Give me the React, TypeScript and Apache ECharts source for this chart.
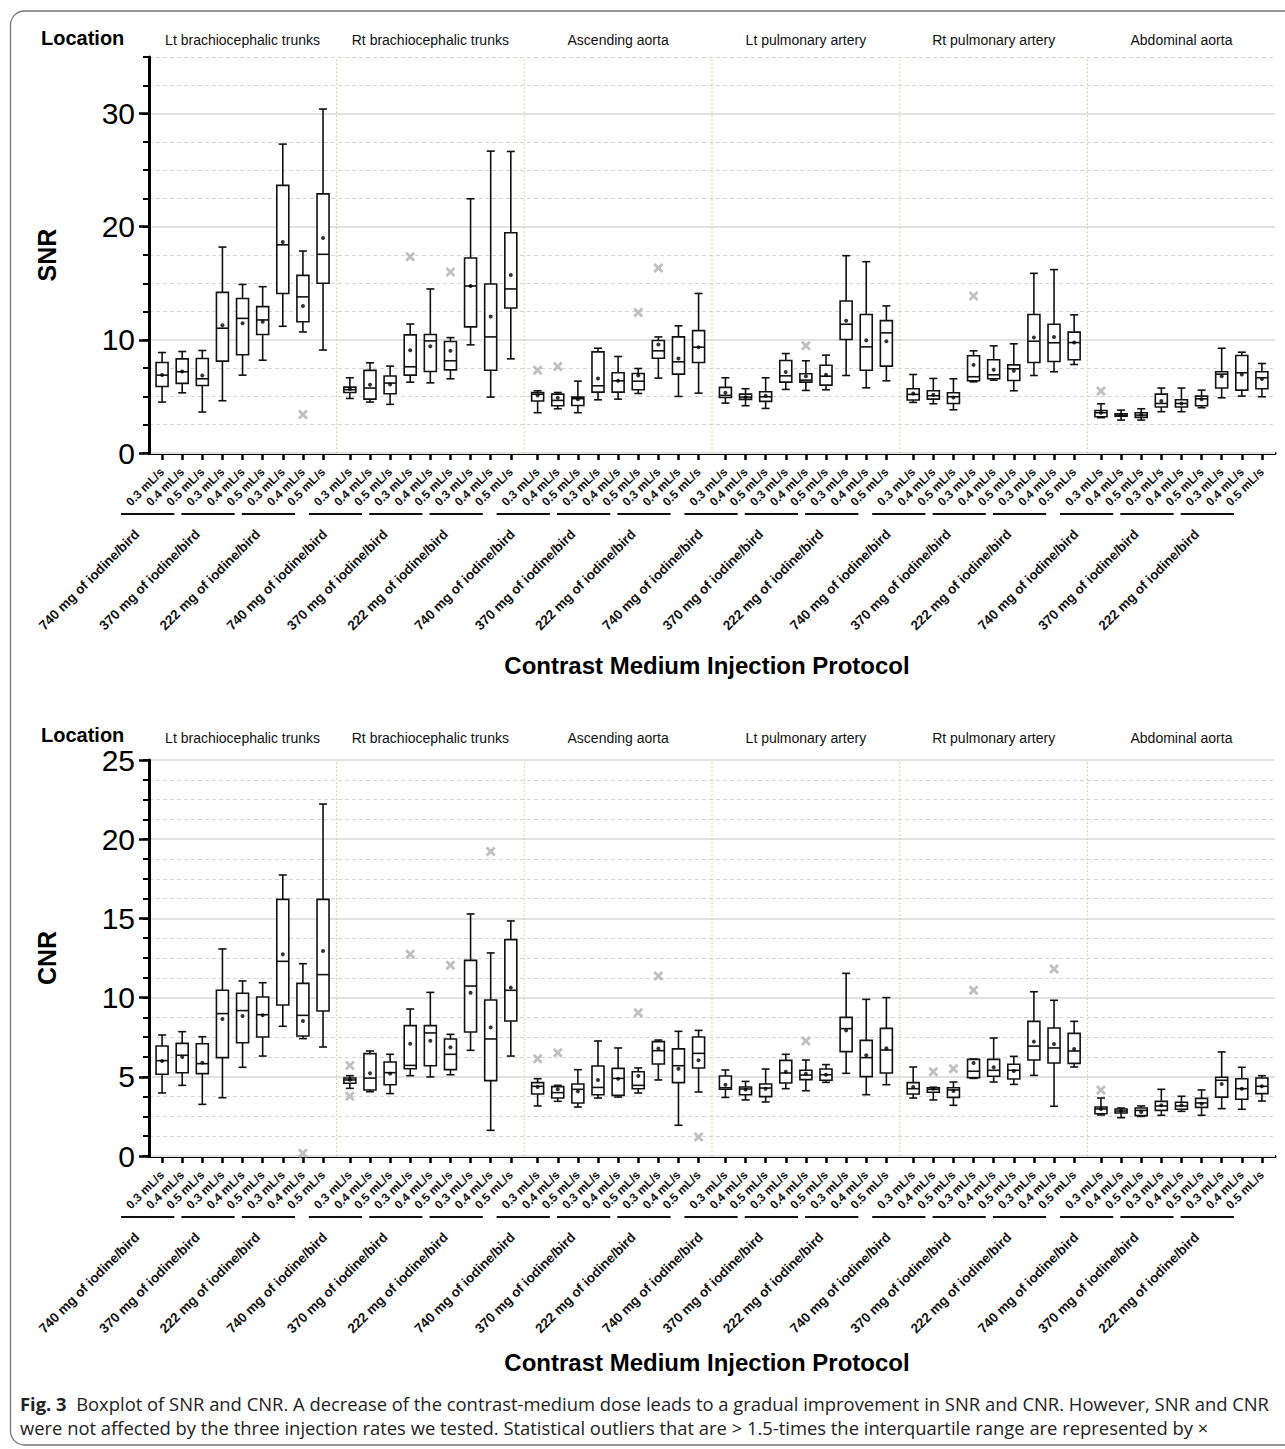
import React, { useEffect, useRef } from "react";
import * as echarts from "echarts";

const W = 1285;
const H = 1449;

// ---------- categories ----------
const locations = [
  "Lt brachiocephalic trunks",
  "Rt brachiocephalic trunks",
  "Ascending aorta",
  "Lt pulmonary artery",
  "Rt pulmonary artery",
  "Abdominal aorta",
];
const doses = ["740 mg of iodine/bird", "370 mg of iodine/bird", "222 mg of iodine/bird"];
const rates = ["0.3 mL/s", "0.4 mL/s", "0.5 mL/s"];
const snrTicks = [0, 10, 20, 30];
const cnrTicks = [0, 5, 10, 15, 20, 25];

// ---------- SNR (order: location > dose > rate) ----------
const snrLow = [
  4.5, 5.32, 3.62, 4.62, 6.88, 8.2, 11.2, 10.7, 9.1,
  4.82, 4.5, 4.3, 6.26, 6.2, 6.56, 9.56, 4.94, 8.32,
  3.56, 3.91, 3.56, 4.7, 4.76, 5.26, 6.62, 5.0, 5.29,
  4.41, 4.18, 3.94, 5.62, 5.53, 5.59, 6.85, 5.76, 6.38,
  4.47, 4.35, 3.82, 6.29, 6.44, 5.5, 6.85, 7.18, 7.82,
  3.12, 2.91, 2.91, 3.65, 3.65, 4.0, 4.88, 5.03, 4.97,
];
const snrQ1 = [
  5.88, 6.15, 5.97, 8.12, 8.68, 10.47, 14.1, 11.6, 15.0,
  5.35, 4.76, 5.24, 6.88, 7.2, 7.35, 11.15, 7.32, 12.82,
  4.59, 4.18, 4.2, 5.38, 5.38, 5.59, 8.38, 6.97, 8.0,
  4.91, 4.74, 4.56, 6.26, 6.26, 6.0, 10.03, 7.32, 7.68,
  4.68, 4.76, 4.38, 6.38, 6.56, 6.41, 8.0, 8.09, 8.24,
  3.21, 3.26, 3.15, 4.06, 4.06, 4.18, 5.74, 5.56, 5.68,
];
const snrMedian = [
  6.88, 7.18, 6.56, 11.03, 11.9, 11.76, 18.4, 13.8, 17.56,
  5.6, 5.74, 6.18, 7.62, 9.91, 8.15, 14.76, 10.26, 14.5,
  5.2, 4.65, 4.8, 5.94, 6.38, 6.35, 9.03, 8.06, 9.35,
  5.09, 4.94, 4.97, 6.82, 6.44, 6.79, 11.38, 9.38, 10.62,
  5.18, 5.06, 4.97, 6.74, 6.91, 7.44, 9.88, 9.74, 9.76,
  3.56, 3.35, 3.35, 4.38, 4.38, 4.79, 6.97, 7.09, 6.65,
];
const snrQ3 = [
  8.0, 8.32, 8.35, 14.2, 13.65, 12.94, 23.65, 15.7, 22.9,
  5.82, 7.3, 6.8, 10.44, 10.47, 9.85, 17.24, 14.94, 19.47,
  5.35, 5.2, 4.94, 8.94, 7.09, 7.03, 9.94, 10.26, 10.82,
  5.8, 5.2, 5.41, 8.18, 7.0, 7.76, 13.44, 12.24, 11.7,
  5.68, 5.5, 5.32, 8.59, 8.24, 7.79, 12.24, 11.38, 10.68,
  3.76, 3.47, 3.56, 5.2, 4.7, 5.03, 7.18, 8.62, 7.18,
];
const snrHigh = [
  8.88, 8.97, 9.06, 18.2, 14.9, 14.7, 27.3, 17.85, 30.4,
  6.65, 7.97, 7.68, 11.4, 14.5, 10.2, 22.47, 26.68, 26.65,
  5.5, 5.35, 6.35, 9.26, 8.53, 7.47, 10.26, 11.24, 14.1,
  6.65, 5.68, 6.65, 8.79, 8.15, 8.65, 17.44, 16.91, 13.0,
  6.94, 6.59, 6.56, 9.03, 9.47, 9.65, 15.88, 16.21, 12.21,
  4.35, 3.79, 3.91, 5.74, 5.74, 5.56, 9.26, 8.91, 7.91,
];
const snrMean = [
  6.9, 7.2, 6.85, 11.3, 11.47, 11.6, 18.65, 13.0, 19.0,
  5.65, 6.03, 6.06, 9.09, 9.44, 9.03, 14.76, 12.06, 15.74,
  5.09, 4.88, 4.76, 6.59, 6.38, 6.85, 9.59, 8.35, 9.35,
  5.32, 4.94, 5.06, 7.15, 6.79, 6.91, 11.68, 9.97, 9.88,
  5.26, 5.15, 4.91, 7.79, 7.35, 7.26, 10.21, 10.26, 9.76,
  3.56, 3.38, 3.38, 4.59, 4.38, 4.76, 6.79, 6.94, 6.53,
];
// [box index, value]
const snrOutliers = [
  [7, 3.4],
  [12, 17.35], [14, 16.0],
  [18, 7.32], [19, 7.65], [23, 12.41], [24, 16.35],
  [31, 9.47],
  [39, 13.88],
  [45, 5.47],
];

// ---------- CNR ----------
const cnrLow = [
  3.98, 4.46, 3.26, 3.68, 5.6, 6.31, 8.19, 7.41, 6.88,
  4.27, 4.06, 3.94, 5.07, 4.99, 5.13, 6.67, 1.62, 6.31,
  3.16, 3.45, 3.09, 3.66, 3.72, 3.98, 4.8, 1.94, 4.04,
  3.7, 3.54, 3.41, 4.25, 4.12, 4.65, 5.22, 3.87, 4.5,
  3.66, 3.54, 3.2, 4.9, 4.67, 4.52, 5.09, 3.14, 5.62,
  2.59, 2.42, 2.5, 2.57, 2.82, 2.57, 2.99, 2.95, 3.47,
];
const cnrQ1 = [
  5.16, 5.26, 5.2, 6.21, 7.15, 7.51, 9.53, 7.58, 9.15,
  4.59, 4.17, 4.5, 5.51, 5.7, 5.45, 7.83, 4.76, 8.52,
  3.91, 3.66, 3.35, 3.87, 3.83, 4.25, 5.81, 4.63, 5.56,
  4.21, 3.87, 3.75, 4.61, 4.82, 4.78, 6.59, 5.01, 5.24,
  3.91, 4.02, 3.7, 4.95, 5.03, 4.86, 6.06, 5.87, 5.85,
  2.67, 2.71, 2.55, 2.88, 2.95, 3.07, 3.72, 3.58, 3.94,
];
const cnrMedian = [
  6.02, 6.36, 5.83, 8.99, 9.18, 8.92, 12.29, 8.88, 11.45,
  4.8, 4.92, 5.26, 5.72, 7.77, 6.42, 10.73, 7.39, 10.46,
  4.4, 4.0, 4.21, 4.33, 4.9, 4.46, 6.65, 5.7, 6.48,
  4.31, 4.23, 4.29, 5.24, 5.11, 5.13, 8.04, 6.21, 6.69,
  4.25, 4.21, 4.17, 5.35, 5.41, 5.41, 6.94, 6.82, 6.63,
  2.97, 2.84, 2.88, 3.16, 3.16, 3.35, 4.78, 4.25, 4.4,
];
const cnrQ3 = [
  6.94, 7.11, 7.09, 10.46, 10.27, 10.04, 16.2, 10.9, 16.2,
  4.92, 6.46, 5.93, 8.23, 8.23, 7.39, 12.35, 9.85, 13.66,
  4.63, 4.38, 4.55, 5.68, 5.53, 5.32, 7.22, 6.76, 7.51,
  5.05, 4.36, 4.55, 6.04, 5.41, 5.49, 8.75, 7.3, 8.06,
  4.63, 4.31, 4.31, 6.1, 6.1, 5.79, 8.5, 8.08, 7.74,
  3.09, 2.97, 3.03, 3.45, 3.39, 3.64, 4.97, 4.88, 4.92,
];
const cnrHigh = [
  7.64, 7.85, 7.53, 13.07, 11.05, 10.94, 17.74, 12.14, 22.22,
  5.07, 6.63, 6.42, 9.28, 10.33, 7.68, 15.28, 12.82, 14.84,
  4.88, 4.46, 5.45, 7.26, 6.82, 5.56, 7.32, 7.87, 7.93,
  5.43, 4.71, 5.49, 6.42, 6.06, 5.77, 11.53, 9.89, 10.0,
  5.62, 4.34, 4.67, 6.12, 7.45, 6.29, 10.37, 9.83, 8.5,
  3.66, 3.03, 3.16, 4.21, 3.77, 4.17, 6.57, 5.6, 5.07,
];
const cnrMean = [
  6.0, 6.25, 5.89, 8.65, 8.84, 8.88, 12.73, 8.52, 12.94,
  4.82, 5.22, 5.2, 7.09, 7.28, 6.86, 10.31, 8.12, 10.63,
  4.36, 4.21, 4.08, 4.8, 4.88, 5.05, 6.78, 5.51, 6.04,
  4.5, 4.19, 4.25, 5.32, 5.2, 5.13, 7.93, 6.36, 6.8,
  4.36, 4.25, 4.1, 5.87, 5.6, 5.37, 7.22, 7.07, 6.76,
  2.97, 2.84, 2.78, 3.2, 3.2, 3.3, 4.55, 4.25, 4.4,
];
const cnrOutliers = [
  [7, 0.17],
  [9, 5.72], [9, 3.77], [12, 12.73], [14, 12.04], [16, 19.23],
  [18, 6.14], [19, 6.52], [23, 9.05], [24, 11.36], [26, 1.2],
  [31, 7.26],
  [37, 5.32], [38, 5.51], [39, 10.46], [43, 11.81],
  [45, 4.17],
];

// ---------- layout helpers (positions on the value x-axis) ----------
const STEP = 28 / 3; // 9 boxes + wider gap between locations
const positions: number[] = [];
locations.forEach((_, l) =>
  doses.forEach((_, d) => rates.forEach((_, r) => positions.push(l * STEP + d * 3 + r)))
);
const XMIN = -0.65;
const XMAX = positions[positions.length - 1] + 0.65;

const FONT = "Liberation Sans, Arial, Helvetica, sans-serif";
const CAPFONT = "Open Sans, Noto Sans, sans-serif";
const XPATH =
  "path://M0,2 L2,0 L5,3 L8,0 L10,2 L7,5 L10,8 L8,10 L5,7 L2,10 L0,8 L3,5 Z";

function rateLabel(v: number) {
  const i = positions.findIndex((p) => Math.abs(p - v) < 1e-6);
  return i < 0 ? "" : rates[i % 3];
}

function renderBox(_params: any, api: any) {
  const x = api.value(0);
  const low = api.coord([x, api.value(1)]);
  const q1 = api.coord([x, api.value(2)]);
  const med = api.coord([x, api.value(3)]);
  const q3 = api.coord([x, api.value(4)]);
  const high = api.coord([x, api.value(5)]);
  const cx = low[0];
  const bw = 6;
  const cw = 4;
  const ls = { stroke: "#111", lineWidth: 1.6, fill: null };
  return {
    type: "group",
    children: [
      { type: "line", shape: { x1: cx, y1: q3[1], x2: cx, y2: high[1] }, style: ls },
      { type: "line", shape: { x1: cx, y1: q1[1], x2: cx, y2: low[1] }, style: ls },
      { type: "line", shape: { x1: cx - cw, y1: high[1], x2: cx + cw, y2: high[1] }, style: ls },
      { type: "line", shape: { x1: cx - cw, y1: low[1], x2: cx + cw, y2: low[1] }, style: ls },
      {
        type: "rect",
        shape: { x: cx - bw, y: q3[1], width: bw * 2, height: q1[1] - q3[1] },
        style: { fill: "#fff", stroke: "#111", lineWidth: 1.6 },
      },
      { type: "line", shape: { x1: cx - bw, y1: med[1], x2: cx + bw, y2: med[1] }, style: ls },
    ],
  };
}

function makeLocationRender(offset: number) {
  return (params: any, api: any) => {
    const p = api.coord([api.value(0), 0]);
    return {
      type: "text",
      x: p[0],
      y: p[1] - offset,
      style: {
        text: locations[params.dataIndex],
        fontSize: 14,
        fontFamily: FONT,
        fill: "#111",
        align: "center",
        verticalAlign: "middle",
      },
    };
  };
}

function renderGroup(params: any, api: any) {
  const p0 = api.coord([api.value(0), 0]);
  const p1 = api.coord([api.value(1), 0]);
  const cx = (p0[0] + p1[0]) / 2;
  const ay = p0[1];
  return {
    type: "group",
    children: [
      {
        type: "line",
        shape: { x1: p0[0] - 41, y1: ay + 61, x2: p1[0] - 28, y2: ay + 61 },
        style: { stroke: "#111", lineWidth: 2 },
      },
      {
        type: "text",
        x: cx - 45,
        y: ay + 79,
        rotation: Math.PI / 4,
        style: {
          text: doses[params.dataIndex % 3],
          fontSize: 13.5,
          fontWeight: "bold",
          fontFamily: FONT,
          fill: "#111",
          align: "right",
          verticalAlign: "middle",
        },
      },
    ],
  };
}

function renderSeparator(_params: any, api: any) {
  const x = api.value(0);
  const a = api.coord([x, api.value(1)]);
  const b = api.coord([x, api.value(2)]);
  return {
    type: "line",
    shape: { x1: a[0], y1: a[1], x2: b[0], y2: b[1] },
    style: { stroke: "#d9c48f", lineWidth: 1, lineDash: [1.5, 2.5] },
  };
}

function buildChartParts(
  gi: number,
  yMajorIdx: number,
  ymax: number,
  low: number[],
  q1: number[],
  med: number[],
  q3: number[],
  high: number[],
  mean: number[],
  outliers: number[][],
  locOffset: number
) {
  const base = { xAxisIndex: gi, yAxisIndex: yMajorIdx, silent: true };
  return [
    {
      ...base,
      type: "custom",
      clip: false,
      renderItem: renderSeparator,
      encode: { x: 0, y: [1, 2] },
      data: locations.slice(1).map((_, l) => [l * STEP + 8 + (STEP - 8) / 2, 0, ymax]),
      z: 1,
    },
    {
      ...base,
      type: "custom",
      clip: false,
      renderItem: renderBox,
      encode: { x: 0, y: [1, 2, 3, 4, 5] },
      data: positions.map((p, i) => [p, low[i], q1[i], med[i], q3[i], high[i]]),
      z: 3,
    },
    {
      ...base,
      type: "scatter",
      symbol: "circle",
      symbolSize: 4,
      itemStyle: { color: "#000" },
      data: positions.map((p, i) => [p, mean[i]]),
      z: 4,
    },
    {
      ...base,
      type: "scatter",
      symbol: XPATH,
      symbolSize: 10,
      itemStyle: { color: "#b0b0b0" },
      data: outliers.map(([i, v]) => [positions[i], v]),
      z: 4,
    },
    {
      ...base,
      type: "custom",
      clip: false,
      renderItem: makeLocationRender(locOffset),
      encode: { x: 0, y: 1 },
      data: locations.map((_, l) => [l * STEP + 4, 0]),
    },
    {
      ...base,
      type: "custom",
      clip: false,
      renderItem: renderGroup,
      encode: { x: [0, 1], y: 2 },
      data: positions
        .filter((_, i) => i % 3 === 0)
        .map((p, g) => [p, positions[g * 3 + 2], 0]),
    },
  ];
}

function xAxisFor(gi: number) {
  return {
    type: "value",
    gridIndex: gi,
    min: XMIN,
    max: XMAX,
    axisLine: { show: true, onZero: false, lineStyle: { color: "#000", width: 3 } },
    axisTick: { show: true, customValues: positions, length: 7, lineStyle: { color: "#000", width: 2.5 } },
    axisLabel: {
      show: true,
      customValues: positions,
      rotate: 45,
      formatter: (v: number) => rateLabel(v),
      fontSize: 12,
      fontWeight: "bold",
      fontFamily: FONT,
      color: "#111",
      margin: 17,
    },
    splitLine: { show: false },
  };
}

function minorY(gi: number, max: number, interval: number) {
  return {
    type: "value",
    gridIndex: gi,
    min: 0,
    max,
    interval,
    position: "left",
    axisLine: { show: false, onZero: false },
    axisTick: { show: true, length: 6, lineStyle: { color: "#000", width: 2 } },
    axisLabel: { show: false },
    splitLine: { show: true, lineStyle: { color: "#d6d6d6", width: 1, type: [4, 3] } },
    z: 0,
  };
}

function majorY(gi: number, max: number, interval: number, name: string, ticks: number[]) {
  return {
    type: "value",
    gridIndex: gi,
    min: 0,
    max,
    interval,
    position: "left",
    name,
    nameLocation: "middle",
    nameRotate: 90,
    nameGap: 90,
    nameTextStyle: { fontSize: 25, fontWeight: "bold", color: "#000", fontFamily: FONT },
    axisLine: { show: true, onZero: false, lineStyle: { color: "#000", width: 3 } },
    axisTick: { show: true, customValues: ticks, length: 10, lineStyle: { color: "#000", width: 2.5 } },
    axisLabel: { show: true, customValues: ticks, fontSize: 30, color: "#000", fontFamily: FONT, margin: 14 },
    splitLine: { show: true, lineStyle: { color: "#e2e2e2", width: 2 } },
    z: 1,
  };
}

const CAPTION1 =
  "{b|Fig. 3}  Boxplot of SNR and CNR. A decrease of the contrast-medium dose leads to a gradual improvement in SNR and CNR. However, SNR and CNR";
const CAPTION2 =
  "were not affected by the three injection rates we tested. Statistical outliers that are > 1.5-times the interquartile range are represented by ×";

export default function App() {
  const ref = useRef<HTMLDivElement>(null);
  useEffect(() => {
    if (!ref.current) return;
    const chart = echarts.init(ref.current, undefined, { renderer: "svg", width: W, height: H });
    const titleStyle = {
      text: "Contrast Medium Injection Protocol",
      fontSize: 24,
      fontWeight: "bold",
      fontFamily: FONT,
      fill: "#000",
      align: "center",
      verticalAlign: "middle",
      textAlign: "center",
      textVerticalAlign: "middle",
    };
    const locStyle = {
      text: "Location",
      fontSize: 20,
      fontWeight: "bold",
      fontFamily: FONT,
      fill: "#000",
      align: "left",
      verticalAlign: "middle",
      textAlign: "left",
      textVerticalAlign: "middle",
    };
    const capStyle = {
      fontSize: 18.4,
      fontFamily: CAPFONT,
      fill: "#222",
      align: "left",
      verticalAlign: "middle",
      textAlign: "left",
      textVerticalAlign: "middle",
      rich: { b: { fontWeight: "bold", fontSize: 18.4, fontFamily: CAPFONT, fill: "#222" } },
    };
    const option: any = {
      animation: false,
      backgroundColor: "#fff",
      textStyle: { fontFamily: FONT },
      grid: [
        { left: 149, top: 57, width: 1126, height: 396 },
        { left: 149, top: 760, width: 1126, height: 396 },
      ],
      xAxis: [xAxisFor(0), xAxisFor(1)],
      yAxis: [
        minorY(0, 35, 2.5),
        majorY(0, 35, 10, "SNR", snrTicks),
        minorY(1, 25, 1.25),
        majorY(1, 25, 5, "CNR", cnrTicks),
      ],
      series: [
        ...buildChartParts(0, 1, 35, snrLow, snrQ1, snrMedian, snrQ3, snrHigh, snrMean, snrOutliers, 413),
        ...buildChartParts(1, 3, 25, cnrLow, cnrQ1, cnrMedian, cnrQ3, cnrHigh, cnrMean, cnrOutliers, 418),
      ],
      graphic: [
        {
          type: "rect",
          silent: true,
          shape: { x: 10.5, y: 11, width: 1300, height: 1434, r: 14 },
          style: { fill: null, stroke: "#777", lineWidth: 1.3 },
          z: 100,
        },
        { type: "text", x: 41, y: 38, style: locStyle, z: 100 },
        { type: "text", x: 41, y: 735, style: locStyle, z: 100 },
        { type: "text", x: 707, y: 665, style: titleStyle, z: 100 },
        { type: "text", x: 707, y: 1362, style: titleStyle, z: 100 },
        { type: "text", x: 20, y: 1403, style: { ...capStyle, text: CAPTION1 }, z: 100 },
        { type: "text", x: 20, y: 1427, style: { ...capStyle, text: CAPTION2 }, z: 100 },
      ],
    };
    chart.setOption(option);
    return () => chart.dispose();
  }, []);
  return (
    <div
      ref={ref}
      style={{ position: "absolute", left: 0, top: 0, width: W, height: H, background: "#fff" }}
    />
  );
}
